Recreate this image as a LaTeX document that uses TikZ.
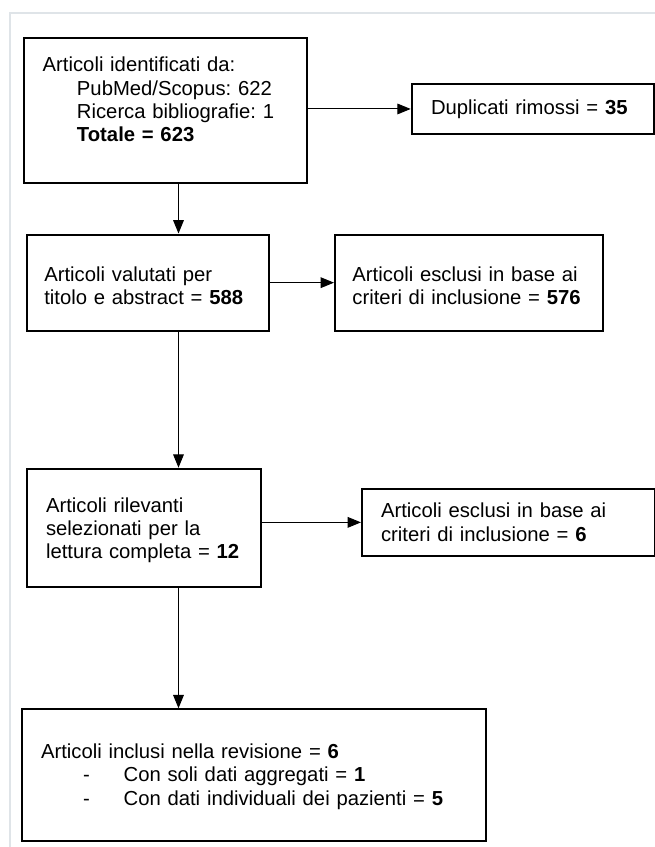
\documentclass[tikz,border=0pt]{standalone}
\usepackage{fontspec}
\setmainfont{Liberation Sans}
\usetikzlibrary{arrows.meta}
\frenchspacing
\newcommand{\upgap}[1]{\rule{0pt}{#1}}
\newcommand{\downgap}[1]{\rule[-#1]{0pt}{#1}}
\definecolor{pagerule}{HTML}{DFE4E8}
\tikzset{
    %Define standard arrow tip
    >={Triangle[length=10pt,width=8pt]},
    %Define style for boxes
    record/.style={
           rectangle,
           draw=black, line width=1.5pt,
           anchor=north west,
           align=left,
           inner ysep=0pt,
           font=\fontsize{15.2pt}{17.5pt}\selectfont},
    % Define arrow style
    pass/.style={
           ->,
           line width=0.75pt},
    sheet/.style={draw=pagerule, line width=1.2pt}
}

\begin{document}
\begin{tikzpicture}[x=0.75pt,y=-0.75pt]
\useasboundingbox (0,0) rectangle (655,847);
\draw[sheet] (655,13) -- (10,13) -- (10,847);
\coordinate (spine) at (178.5,0);
\node[record, inner xsep=13.8pt, text width=184.4pt] (ident) at (23.3,36.7)
  {\upgap{25.5pt}Articoli identificati da:\\
   \hspace*{25.7pt}PubMed/Scopus: 622\\
   \hspace*{25.7pt}Ricerca bibliografie: 1\\
   \hspace*{25.7pt}\textbf{Totale = 623}\downgap{31.3pt}};
\node[record, inner xsep=14.5pt, text width=153pt] (dup) at (410.7,83.3)
  {\upgap{22.5pt}Duplicati rimossi = \textbf{35}\downgap{14.5pt}};
\node[record, inner xsep=13pt, text width=155.8pt] (screen) at (26,233.5)
  {\upgap{35.25pt}Articoli valutati per\\
   titolo e abstract = \textbf{588}\downgap{19.5pt}};
\node[record, inner xsep=13.1pt, text width=174.5pt] (exclA) at (334,233.5)
  {\upgap{35.25pt}Articoli esclusi in base ai\\
   criteri di inclusione = \textbf{576}\downgap{19.5pt}};
\node[record, inner xsep=14.25pt, text width=147pt] (full) at (26,467.7)
  {\upgap{32.5pt}Articoli rilevanti\\
   selezionati per la\\
   lettura completa = \textbf{12}\downgap{21pt}};
\node[record, inner xsep=14.25pt, text width=191.25pt] (exclB) at (361,487.7)
  {\upgap{21.75pt}Articoli esclusi in base ai\\
   criteri di inclusione = \textbf{6}\downgap{11.25pt}};
\node[record, inner xsep=14.25pt, text width=319.5pt] (incl) at (21,708.3)
  {\upgap{37pt}Articoli inclusi nella revisione = \textbf{6}\\
   \makebox[62pt][l]{\hspace{31.5pt}-}Con soli dati aggregati = \textbf{1}\\
   \makebox[62pt][l]{\hspace{31.5pt}-}Con dati individuali dei pazienti = \textbf{5}\downgap{26.4pt}};
\path[pass]
    (ident.east |- dup.west) edge (dup.west)
    (ident.south -| spine) edge (screen.north -| spine)
    (screen.east) edge (exclA.west)
    (screen.south -| spine) edge (full.north -| spine)
    (full.east |- exclB.west) edge (exclB.west)
    (full.south -| spine) edge (incl.north -| spine);
\end{tikzpicture}
\end{document}
